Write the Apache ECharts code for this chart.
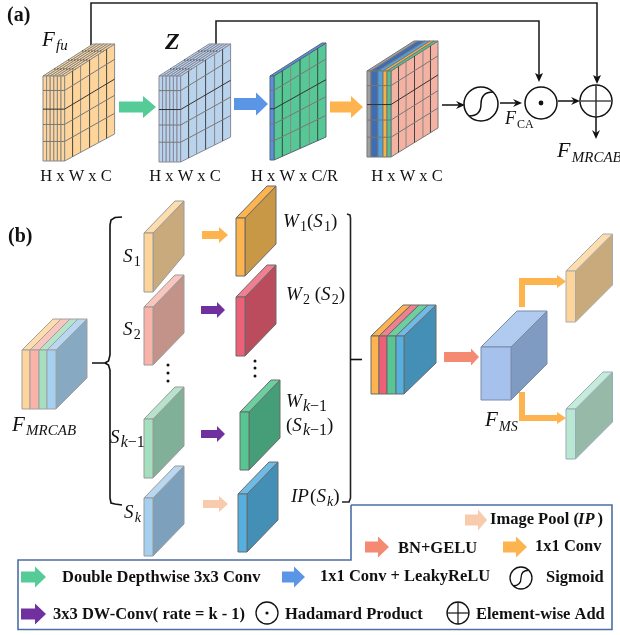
<!DOCTYPE html>
<html><head><meta charset="utf-8">
<style>html,body{margin:0;padding:0;background:#fff}#c{width:620px;height:635px}</style>
<script src="https://cdn.jsdelivr.net/npm/echarts@6/dist/echarts.min.js"></script>
</head><body><div id="c"></div>
<script>
// ---- text content ----
const panelLabels = ['(a)', '(b)'];
const dimLabels = ['H x W x C', 'H x W x C', 'H x W x C/R', 'H x W x C'];
const splitLabels = ['S_{1}', 'S_{2}', 'S_{k−1}', 'S_{k}'];
const opLabels = ['W_{1}(S_{1})', 'W_{2} (S_{2})', 'W_{k−1}', '(S_{k−1})', 'IP(S_{k})'];
const featureLabels = ['F_{fu}', 'F_{MRCAB}', 'F_{MRCAB}', 'F_{MS}'];
const legendLabels = ['Image Pool (', 'IP', ')', 'BN+GELU', '1x1 Conv', 'Double Depthwise 3x3 Conv',
  '1x1 Conv + LeakyReLU', 'Sigmoid', '3x3 DW-Conv( rate = k - 1)', 'Hadamard Product', 'Element-wise Add'];

// ---- palette ----
const C = {peach:'#fdd59a', peachSide:'#c9aa7c', peachTop:'#fddcae', rose:'#f9b3a8', roseSide:'#c39389', roseTop:'#f8c6bd',
  mint:'#a4dfc0', mintSide:'#80b098', mintTop:'#b7e3cc', sky:'#a6d0f0', skySide:'#7da0bc', skyTop:'#b8d8f2',
  orange:'#fdb44f', orangeSide:'#c89847', red:'#ee6078', redSide:'#bb4c5e', redTop:'#f08090',
  green:'#57c693', greenSide:'#459e77', greenTop:'#6dcf9f', blue:'#55b0e0', blueSide:'#438fb5', blueTop:'#6ebce5',
  arrowGreen:'#55cb98', arrowBlue:'#5b95e6', arrowOrange:'#fdb44f', arrowPurple:'#7030a0', arrowSalmon:'#f48a72', arrowPeach:'#f8cbad',
  frame:'#4a6ea8', ink:'#111'};
const SERIF = '"Liberation Serif"';

// ---- primitive list, in paint order ----
const prims = [];
const poly = (pts, fill, stroke, lw) => prims.push({k:'poly', pts, fill, stroke, lw});
const line = (pts, stroke, lw, dash) => prims.push({k:'line', pts, stroke, lw, dash});
const circ = (x, y, r, fill, stroke, lw) => prims.push({k:'circ', x, y, r, fill, stroke, lw});
const text = (t, x, y, font, align) => prims.push({k:'text', t, x, y, font, align});
const curve = (a, c1, c2, b, lw) => prims.push({k:'bez', a, c1, c2, b, lw});

const meas = document.createElement('canvas').getContext('2d');
function math(src, x, y, S, subS, romanSub) {
  const base = y + 0.32 * S; let cx = x;
  const re = /_\{([^}]*)\}|([^_]+)/g; let m;
  while ((m = re.exec(src))) {
    const sub = m[1] !== undefined, body = sub ? m[1] : m[2], sz = sub ? subS : S;
    (body.match(/[A-Za-z]+|[^A-Za-z]+/g) || []).forEach(run => {
      const it = /[A-Za-z]/.test(run) && !(sub && romanSub);
      const font = (it ? 'italic ' : '') + sz + 'px ' + SERIF;
      const by = base + (sub ? 0.22 * S : 0) - 0.32 * sz;
      text(run, cx, by, font, 'left');
      meas.font = font; cx += meas.measureText(run).width + (it && !sub ? 0.06 * S : 0);
    });
  }
}
function arrow(x0, x1, cy, hs, a, b, color) {
  poly([[x0,cy-a],[hs,cy-a],[hs,cy-b],[x1,cy],[hs,cy+b],[hs,cy+a],[x0,cy+a]], color);
}
function block(o) {
  let X = o.x; const dyB = o.dyB === undefined ? o.dy : o.dyB, st = o.stroke || '#808080', lw = o.lw || 1;
  o.strips.forEach(s => { X += s.w; });
  poly([[X,o.y],[X+o.dx,o.y+o.dy],[X+o.dx,o.y+o.h+dyB],[X,o.y+o.h]], o.side, st, lw);
  let xi = o.x;
  o.strips.forEach(s => {
    poly([[xi,o.y],[xi+s.w,o.y],[xi+s.w+o.dx,o.y+o.dy],[xi+o.dx,o.y+o.dy]], s.top || s.c, st, lw);
    poly([[xi,o.y],[xi+s.w,o.y],[xi+s.w,o.y+o.h],[xi,o.y+o.h]], s.c, st, lw);
    xi += s.w;
  });
  if (o.grid) {
    const g = o.grid, P = (u, v) => [X + u*o.dx, o.y + u*o.dy + v*(o.h + u*(dyB-o.dy))];
    g.us.forEach((u, i) => line([P(u,0),P(u,1)], i%2 ? '#888' : '#444', 1));
    g.vs.forEach((v, i) => line([P(0,v),P(1,v)], i===1 ? '#333' : '#777', 1));
    // rows continued across the stacked front layers
    g.vs.forEach((v, i) => line([[o.x,o.y+v*o.h],[X,o.y+v*o.h]], i===1 ? '#333' : '#777', 1));
    // tick rows across the top face
    if (g.top) [0.22,0.5,0.78].forEach(u =>
      line([[o.x+u*o.dx,o.y+u*o.dy],[X+u*o.dx,o.y+u*o.dy]], '#444', 1, [1.5,1.5]));
  }
}
const rep = (n, w, c, top) => Array.from({length:n}, () => ({w, c, top}));
const gridVs = [.17,.39,.57,.77], gridUs = [.16,.32,.5,.68,.84];

// ---- (a) ----
line([[91,45],[91,3],[597,3],[597,78]], '#222', 1.6);
line([[216,45],[216,21],[539,21],[539,76]], '#222', 1.6);
poly([[597,84],[593,75],[597,77],[601,75]], '#111');
poly([[539,82],[535,73],[539,75],[543,73]], '#111');
block({x:43,y:76,h:85,dx:50,dy:-32,dyB:-27,side:C.peach,stroke:'#888',strips:rep(6,3.6,C.peach),grid:{us:gridUs,vs:gridVs,top:true}});
block({x:159,y:76,h:86,dx:50,dy:-32,dyB:-25,side:'#b9d3ec',stroke:'#889',strips:rep(6,3.6,'#b9d3ec'),grid:{us:gridUs,vs:gridVs,top:true}});
block({x:270,y:76,h:84,dx:52,dy:-33,dyB:-23,side:'#55c896',stroke:'#567',strips:[{w:4,c:'#5b90de',top:'#5b90de'}],grid:{us:gridUs,vs:gridVs}});
block({x:367,y:71,h:86,dx:47,dy:-30,dyB:-29,side:'#f4b2a3',stroke:'#777',
  strips:[{w:4,c:'#a0a0a0'},{w:7,c:'#3f6db5'},{w:5,c:'#4ea4e0'},{w:4,c:'#fbb040'},{w:4,c:'#57c08f'}],grid:{us:gridUs,vs:gridVs}});
arrow(119,156,107,143,5.5,11,C.arrowGreen);
arrow(234,268,104,256,6,11.5,C.arrowBlue);
arrow(330,363,107,351,5.5,11,C.arrowOrange);
[[76,177],[185,177]].forEach((p,i)=>text(dimLabels[i],p[0],p[1],'16.5px '+SERIF,'center'));
text(dimLabels[2],251,177,'16.5px '+SERIF,'left');
text(dimLabels[3],407,177,'16.5px '+SERIF,'center');
text(panelLabels[0],7,16,'bold 20px '+SERIF,'left');
text(panelLabels[1],8,237,'bold 20px '+SERIF,'left');
math(featureLabels[0],42,40,21,15);
text('Z',165,43,'bold italic 24px '+SERIF,'left');
function sigmoid(cx,cy,r,lw){
  circ(cx,cy,r,'#fff','#111',lw);
  const k=r/17;
  curve([cx-12*k,cy+12*k],[cx-4*k,cy+12*k],[cx,cy+8*k],[cx,cy],lw);
  curve([cx,cy],[cx,cy-8*k],[cx+4*k,cy-12*k],[cx+12*k,cy-12*k],lw);
}
sigmoid(481,104,17,1.5);
circ(541,103,16,'#fff','#111',1.5); circ(541,103,2.4,'#111');
circ(596,101,16,'#fff','#111',1.5);
line([[580,101],[612,101]],'#555',1.6); line([[596,85],[596,117]],'#333',1.5);
line([[442,105],[461,105]],'#111',1.5); poly([[465,105],[456,101],[459,105],[456,109]],'#111');
line([[500,103],[518,103]],'#111',1.5); poly([[522,103],[513,99],[516,103],[513,107]],'#111');
line([[558,101],[576,101]],'#111',1.5); poly([[580,101],[571,97],[574,101],[571,105]],'#111');
line([[596,117],[596,135]],'#111',1.5); poly([[596,139],[592,130],[596,133],[600,130]],'#111');
math('F_{CA}',505,119,18,12,true);
math(featureLabels[1],557,151,22,15);

// ---- (b) ----
const slab = (x,y,h,c,top,side,o) => block(Object.assign({x,y,h,dx:31,dy:-32,side,stroke:'#9a9a9a',strips:[{w:9,c,top}]},o||{}));
slab(144,233,59,C.peach,C.peachTop,C.peachSide,{dyB:-37});
slab(144,307,58,C.rose,C.roseTop,C.roseSide);
slab(144,419,59,C.mint,C.mintTop,C.mintSide);
slab(144,498,58,C.sky,C.skyTop,C.skySide);
const wslab = (x,y,h,c,top,side) => block({x,y,h,dx:31,dy:-32,dyB:-32,side,stroke:'#6a6a6a',strips:[{w:9,c,top}]});
wslab(236,218,58,C.orange,C.orange,C.orangeSide);
wslab(236,297,59,C.red,C.redTop,C.redSide);
wslab(240,412,58,C.green,C.greenTop,C.greenSide);
wslab(238,494,58,C.blue,C.blueTop,C.blueSide);
block({x:22,y:350,h:59,dx:31,dy:-31,side:'#88a9c2',stroke:'#a0a0a0',strips:[{w:8,c:C.peach,top:C.peachTop},{w:9,c:C.rose,top:C.roseTop},{w:8,c:C.mint,top:C.mintTop},{w:9,c:C.sky,top:C.skyTop}]});
block({x:371,y:336,h:58,dx:32,dy:-31,side:C.blueSide,stroke:'#6a6a6a',strips:[{w:8,c:C.orange},{w:8,c:C.red,top:C.redTop},{w:9,c:C.green,top:C.greenTop},{w:8,c:C.blue,top:C.blueTop}]});
block({x:481,y:347,h:53,dx:36,dy:-36,side:'#7f9bc2',stroke:'#7a8ba8',strips:[{w:30,c:'#a6c2ec',top:'#b0caf0'}]});
block({x:566,y:271,h:51,dx:37,dy:-37,side:C.peachSide,stroke:'#aaa',strips:[{w:9.5,c:C.peach,top:C.peachTop}]});
block({x:566,y:409,h:50,dx:37,dy:-37,side:'#97baa8',stroke:'#9ab',strips:[{w:9.5,c:'#b8e8d2',top:'#c4ecd9'}]});

// brackets
line([[122,217],[115,217.5],[111,220],[110,225],[110,355],[108.5,361],[105,363],[92,363]],'#111',1.6);
line([[105,363],[108.5,365],[110,370],[110,498],[111,503],[115,504],[122,505]],'#111',1.6);
line([[347,214],[350,215],[350.5,218],[350.5,498],[349,502],[342,502]],'#222',1.6);
line([[350,359.5],[362,359.5]],'#111',1.6);
[[168,365],[168,373],[168,381],[255,361],[255,368],[255,376]].forEach(p=>circ(p[0],p[1],1.5,'#111'));

arrow(202,228,235,219,4,8,C.arrowOrange);
arrow(201,225,310,217,4,8,C.arrowPurple);
arrow(201,225,434,217,4,8,C.arrowPurple);
arrow(203,228,504,219,4,8,C.arrowPeach);
arrow(444,479,357,471,5,8.5,C.arrowSalmon);
poly([[519,307],[519,278],[557,278],[557,275],[566,281.5],[557,288],[557,285],[525,285],[525,307]],C.arrowOrange);
poly([[519,392],[525,392],[525,415],[557,415],[557,412],[566,418],[557,424],[557,421],[519,421]],C.arrowOrange);

math(splitLabels[0],123,257,19,14);
math(splitLabels[1],123,330,19,14);
math(splitLabels[2],110,438,19,16);
math(splitLabels[3],124,513,19,14);
math(opLabels[0],283,222,19,14);
math(opLabels[1],286,295,19,14);
math(opLabels[2],286,402,19,16);
math(opLabels[3],286,426,19,16);
math(opLabels[4],291,497,19,14);
math(featureLabels[2],12,425,21,15);
math(featureLabels[3],485,420,21,14);

// legend frame
line([[351,505],[612,505],[612,629.5],[18,629.5],[18,560],[351,560],[351,505]],C.frame,1.6);
arrow(465,487,520,478,5.5,10.5,C.arrowPeach);
arrow(365,389,547,378,5.5,10.5,C.arrowSalmon);
arrow(503,527,547,516,5.5,10.5,C.arrowOrange);
arrow(21,46,577,35,5.5,10.5,C.arrowGreen);
arrow(282,305,577,294,5.5,10.5,C.arrowBlue);
arrow(21,46,614,35,5.5,10.5,C.arrowPurple);
const LF = 'bold 16.5px '+SERIF;
text(legendLabels[0],490,520,LF,'left');
text(legendLabels[1],578,520,'bold italic 16.5px '+SERIF,'left');
text(legendLabels[2],597.5,520,LF,'left');
text(legendLabels[3],398,549,LF,'left');
text(legendLabels[4],535,547,LF,'left');
text(legendLabels[5],62,578,LF,'left');
text(legendLabels[6],320,577,LF,'left');
text(legendLabels[7],546,578,LF,'left');
text(legendLabels[8],53,615,LF,'left');
text(legendLabels[9],285,615,LF,'left');
text(legendLabels[10],476,615,LF,'left');
sigmoid(521,578,11,1.3);
circ(267,613,11,'#fff','#111',1.3); circ(267,613,1.6,'#111');
circ(458,613,11,'#fff','#111',1.3);
line([[447,613],[469,613]],'#111',1.2); line([[458,602],[458,624]],'#111',1.2);

// ---- chart: every primitive goes through the hidden axes ----
function renderItem(params, api) {
  const s = prims[params.dataIndex], P = p => api.coord(p);
  if (s.k === 'poly') return {type:'polygon',shape:{points:s.pts.map(P)},style:{fill:s.fill,stroke:s.stroke||null,lineWidth:s.lw||0}};
  if (s.k === 'line') return {type:'polyline',shape:{points:s.pts.map(P)},style:{fill:null,stroke:s.stroke,lineWidth:s.lw,lineDash:s.dash||null}};
  if (s.k === 'circ') { const c=P([s.x,s.y]); return {type:'circle',shape:{cx:c[0],cy:c[1],r:s.r},style:{fill:s.fill,stroke:s.stroke||null,lineWidth:s.lw||0}}; }
  if (s.k === 'bez') { const a=P(s.a),b=P(s.b),c1=P(s.c1),c2=P(s.c2);
    return {type:'bezierCurve',shape:{x1:a[0],y1:a[1],x2:b[0],y2:b[1],cpx1:c1[0],cpy1:c1[1],cpx2:c2[0],cpy2:c2[1]},style:{fill:null,stroke:'#111',lineWidth:s.lw}}; }
  const c = P([s.x,s.y]);
  return {type:'text',style:{text:s.t,x:c[0],y:c[1],font:s.font,fill:C.ink,textAlign:s.align,textVerticalAlign:'middle'}};
}
const chart = echarts.init(document.getElementById('c'), null, {renderer:'canvas', width:620, height:635});
chart.setOption({
  animation:false, backgroundColor:'#fff',
  grid:{left:0,right:0,top:0,bottom:0},
  xAxis:{type:'value',min:0,max:620,show:false},
  yAxis:{type:'value',min:0,max:635,inverse:true,show:false},
  series:[{type:'custom',coordinateSystem:'cartesian2d',clip:false,silent:true,renderItem,
    data:prims.map(()=>[0,0])}]
});
</script></body></html>
